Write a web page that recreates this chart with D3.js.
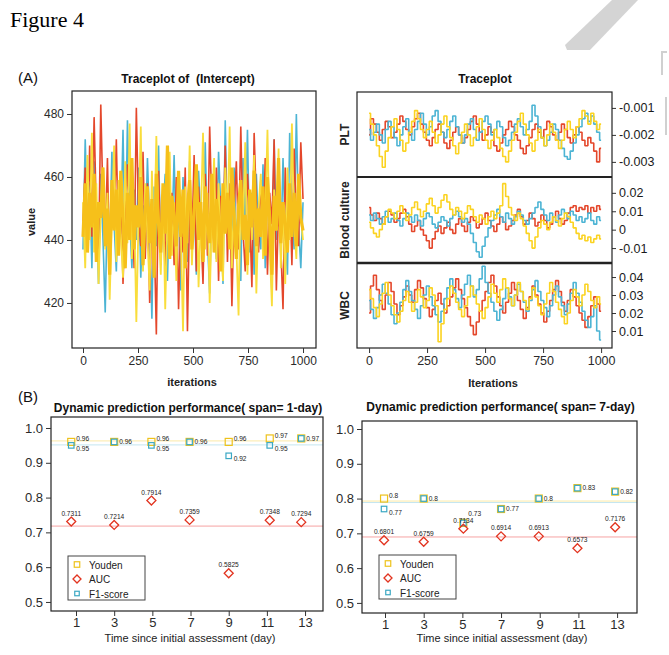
<!DOCTYPE html>
<html>
<head>
<meta charset="utf-8">
<script src="https://cdn.jsdelivr.net/npm/d3@7"></script>
<style>
body { margin: 0; background: #fff; }
svg text { font-family: "Liberation Sans", Arial, sans-serif; white-space: pre; }
</style>
</head>
<body>
<div id="fig"></div>
<script>
// ---- (A) traceplot of the intercept, 4 chains ----
var interceptCyan = [437,472,444,458,431,465,449,426,461,440,
	417,453,436,468,445,430,459,442,475,434,
	478,447,431,456,440,463,428,451,437,466,
	443,415,457,438,470,432,449,461,427,455,
	441,467,435,452,424,460,444,433,465,439,
	456,429,462,447,436,471,440,423,458,445,
	434,468,450,426,478,441,457,432,463,438,
	452,427,466,444,475,436,455,429,461,443,
	437,464,431,458,446,423,472,440,453,435,
	466,442,429,474,449,437,480,445,431,452];
var interceptRed = [446,463,437,470,441,479,448,433,483,452,
	438,466,429,457,445,472,436,460,426,449,
	464,440,455,431,482,447,438,468,434,458,
	420,451,443,410,462,437,454,428,466,441,
	455,432,460,418,447,436,463,411,452,439,
	467,430,457,444,426,461,435,476,449,438,
	463,427,454,441,470,433,458,419,450,465,
	437,476,443,430,461,448,425,474,452,436,
	459,440,466,429,455,445,472,424,451,438,
	418,463,441,457,432,469,446,438,471,453];
var interceptYellow = [452,431,467,440,474,436,458,426,449,463,
	437,455,421,446,470,433,459,442,428,465,
	439,477,434,451,414,447,476,430,458,441,
	424,462,438,473,445,429,456,418,448,468,
	435,452,427,461,443,411,457,439,470,432,
	450,463,425,446,474,437,455,420,449,466,
	433,458,441,427,463,445,476,431,452,438,
	416,459,444,471,429,455,440,467,423,450,
	461,434,447,475,438,419,456,443,469,431,
	452,426,463,440,477,445,434,459,448,440];
var interceptGold = [441,458,436,455,444,461,433,452,447,463,
	438,450,429,459,443,456,435,462,446,431,
	455,440,466,437,451,444,460,432,449,457,
	439,453,428,461,445,436,458,442,470,434,
	454,447,438,462,441,456,431,450,459,437,
	448,464,440,452,433,457,445,439,461,436,
	453,447,430,458,442,455,437,463,446,434,
	451,459,440,448,432,456,444,462,438,450,
	441,457,435,460,447,429,454,443,466,439,
	452,445,436,458,441,455,438,461,447,443];
var interceptTicks = [420, 440, 460, 480];
var iterTicks = [0, 250, 500, 750, 1000];

// ---- (A) right traceplots, values in thousandths ----
var pltRed = [-2.0,-1.4,-1.6,-1.9,-2.2,-1.8,-1.5,-1.7,-2.1,-1.9,
	-1.6,-1.3,-1.5,-1.8,-2.0,-1.7,-1.4,-1.2,-1.6,-1.9,
	-2.2,-2.4,-2.1,-1.8,-1.6,-1.9,-2.3,-2.5,-2.2,-1.9,
	-1.7,-2.0,-2.3,-2.1,-1.8,-1.5,-1.3,-1.6,-1.9,-2.2,
	-2.0,-1.7,-1.9,-2.4,-2.6,-2.3,-2.0,-1.8,-1.5,-1.7,
	-2.0,-2.2,-2.5,-2.7,-2.4,-2.1,-1.8,-1.6,-1.9,-2.1,
	-1.8,-1.5,-1.7,-2.0,-2.2,-1.9,-1.6,-1.8,-2.1,-2.3,
	-2.0,-1.7,-1.9,-2.2,-2.4,-2.1,-2.3,-2.6,-3.0,-2.5];
var pltCyan = [-1.8,-2.2,-1.9,-1.6,-2.0,-2.3,-1.8,-1.5,-1.7,-2.1,
	-2.4,-2.0,-1.7,-1.4,-1.9,-2.2,-1.8,-1.5,-1.2,-1.6,
	-2.0,-1.7,-1.3,-1.1,-1.5,-1.9,-2.1,-1.8,-1.5,-1.3,
	-1.7,-2.0,-2.3,-2.0,-1.6,-1.4,-1.8,-2.2,-1.9,-1.5,
	-1.3,-1.6,-2.0,-1.8,-1.5,-1.7,-2.1,-2.4,-2.2,-1.9,
	-1.6,-1.4,-1.7,-2.0,-1.8,-1.5,-0.9,-1.3,-1.7,-2.1,
	-2.4,-2.2,-1.9,-1.6,-1.8,-2.2,-2.5,-2.8,-2.9,-2.6,
	-2.3,-2.0,-1.7,-1.4,-1.2,-1.5,-1.3,-1.6,-1.9,-2.2];
var pltYellow = [-1.2,-1.6,-2.0,-2.4,-2.8,-3.2,-2.6,-2.1,-1.7,-1.4,
	-1.8,-2.2,-2.6,-2.3,-1.9,-1.5,-1.1,-1.4,-1.8,-2.1,
	-1.8,-1.5,-1.9,-2.3,-2.0,-1.6,-1.3,-1.7,-2.1,-2.4,
	-2.7,-2.3,-1.9,-1.6,-2.0,-2.4,-2.1,-1.7,-1.4,-1.8,
	-2.2,-2.5,-2.2,-1.8,-2.1,-2.5,-2.8,-3.0,-2.6,-2.2,
	-1.9,-1.5,-1.2,-1.6,-2.0,-2.3,-2.6,-2.2,-1.8,-2.1,
	-2.4,-2.0,-1.6,-1.9,-2.2,-2.5,-2.2,-1.8,-1.5,-1.8,
	-2.1,-1.7,-1.4,-1.1,-1.3,-1.6,-1.2,-1.5,-1.8,-1.6];
var bcRed = [12,8,5,9,6,3,7,10,8,4,
	6,9,11,7,3,-1,2,5,0,-3,
	-6,-10,-5,-1,2,-2,1,4,0,-2,
	3,6,2,-1,4,7,5,1,3,6,
	9,5,2,-1,3,7,4,0,2,5,
	8,11,7,3,5,9,6,2,4,8,
	5,1,3,7,10,6,3,5,9,12,
	13,10,12,11,13,9,12,10,13,11];
var bcCyan = [8,5,9,6,3,7,10,4,6,9,
	5,2,6,9,7,4,8,5,2,6,
	9,7,3,1,4,7,5,2,6,8,
	10,7,4,6,3,-2,-7,-12,-15,-9,
	-4,1,5,8,11,7,4,9,6,3,
	7,10,8,5,3,6,9,12,15,11,
	8,5,9,7,4,8,11,9,6,10,
	8,5,7,4,6,9,5,3,7,5];
var bcYellow = [4,1,-2,-4,0,3,7,11,9,6,
	10,13,9,5,8,12,15,11,7,10,
	14,17,13,9,12,16,19,15,11,8,
	12,10,6,9,13,11,7,4,8,6,
	3,7,10,6,9,13,25,18,12,8,
	5,9,6,2,-2,-6,-10,-4,1,5,
	3,0,4,7,5,2,6,9,7,4,
	1,-2,-5,-3,-6,-4,-7,-5,-3,-5];
var wbcRed = [20,35,41,33,27,22,30,37,32,25,
	19,24,29,35,30,26,33,38,34,28,
	23,18,22,27,31,25,20,24,29,34,
	39,33,28,23,18,13,8,15,21,27,
	32,37,41,35,29,24,20,26,31,37,
	33,27,22,17,23,29,35,30,25,20,
	15,21,27,33,38,32,26,21,27,33,
	29,24,20,16,12,18,24,29,25,21];
var wbcCyan = [27,22,17,23,30,36,31,25,19,14,
	20,26,33,38,32,27,22,17,24,30,
	35,29,24,19,15,21,28,34,39,33,
	28,23,30,36,41,35,29,33,39,46,
	37,31,26,21,16,22,28,34,29,24,
	30,36,32,26,21,27,33,38,32,27,
	23,18,24,30,35,29,24,19,25,31,
	37,31,26,21,16,12,18,24,10,5];
var wbcYellow = [33,28,23,18,25,31,37,30,24,19,
	15,21,27,32,26,21,26,33,29,23,
	27,34,30,24,4,14,22,28,35,31,
	26,22,18,24,29,35,30,25,21,17,
	23,29,36,31,26,33,39,34,28,24,
	30,37,32,27,22,28,34,29,24,19,
	25,31,37,32,26,22,18,14,20,27,
	33,29,24,30,36,32,27,23,29,25];
var pltTicks = [-1, -2, -3];
var pltTickLabels = ['-0.001', '-0.002', '-0.003'];
var bcTicks = [20, 10, 0, -10];
var bcTickLabels = ['0.02', '0.01', '0', '-0.01'];
var wbcTicks = [40, 30, 20, 10];
var wbcTickLabels = ['0.04', '0.03', '0.02', '0.01'];

// ---- (B) dynamic prediction performance ----
var days = [1, 3, 5, 7, 9, 11, 13];
var perfTicks = [0.5, 0.6, 0.7, 0.8, 0.9, 1.0];
var jitter1 = [0.75, 3.0, 4.95, 6.95, 9.0, 11.15, 12.8];
var youden1 = [0.96, 0.96, 0.96, 0.96, 0.96, 0.97, 0.97];
var auc1 = [0.7311, 0.7214, 0.7914, 0.7359, 0.5825, 0.7348, 0.7294];
var f1score1 = [0.95, 0.96, 0.95, 0.96, 0.92, 0.95, 0.97];
var jitter7 = [0.95, 3.0, 5.05, 7.0, 8.95, 10.95, 12.9];
var youden7 = [0.8, 0.8, 0.73, 0.77, 0.8, 0.83, 0.82];
var auc7 = [0.6801, 0.6759, 0.7134, 0.6914, 0.6913, 0.6573, 0.7176];
var f1score7 = [0.77, 0.8, 0.73, 0.77, 0.8, 0.83, 0.82];
var legendNames = ['Youden', 'AUC', 'F1-score'];

var colRed = '#e4472b', colCyan = '#4cb4d4', colYellow = '#fbd321', colGold = '#f6c01a';
var mkYellow = '#eec21a', mkRed = '#e2331f', mkCyan = '#3ba8c4';

var svg = d3.select('#fig').append('svg')
	.attr('width', 669)
	.attr('height', 655);

svg.append('text')
	.attr('x', 10).attr('y', 27)
	.style('font-family', '"Liberation Serif", "Times New Roman", serif')
	.style('font-size', '22px')
	.text('Figure 4');

// grey page mark, top right
svg.append('path')
	.attr('d', 'M565,45 L612,0 L638,0 L590,50 L567,50 Z')
	.attr('fill', '#d4d4d4');
svg.append('path').attr('d', 'M667,52 L662,52 L662,75').attr('fill', 'none').attr('stroke', '#d0d0d0').attr('stroke-width', 2);
svg.append('path').attr('d', 'M666,97 L666,135').attr('fill', 'none').attr('stroke', '#d0d0d0').attr('stroke-width', 2);

function label(x, y, txt, size, opts) {
	opts = opts || {};
	var t = svg.append('text')
		.attr('x', x).attr('y', y)
		.attr('text-anchor', opts.anchor || 'middle')
		.style('font-size', size + 'px')
		.style('font-weight', opts.bold ? 'bold' : 'normal')
		.attr('fill', opts.fill || '#111')
		.text(txt);
	if (opts.rotate) t.attr('transform', 'rotate(-90,' + x + ',' + y + ')');
	return t;
}

function styleAxis(g, size) {
	g.select('.domain').remove();
	g.selectAll('line').attr('stroke', '#333');
	g.selectAll('text').attr('fill', '#2a2a2a').style('font-size', size + 'px');
}

var clipId = 0;
function clipBox(x0, y0, x1, y1) {
	var id = 'clip' + (clipId++);
	svg.append('clipPath').attr('id', id)
		.append('rect').attr('x', x0).attr('y', y0).attr('width', x1 - x0).attr('height', y1 - y0);
	return 'url(#' + id + ')';
}

function drawChain(g, x, y, values, color, curve, width) {
	var n = values.length;
	var pts = values.map(function(v, i) { return [i * 1000 / (n - 1), v]; });
	var line = d3.line().curve(curve)
		.x(function(d) { return x(d[0]); })
		.y(function(d) { return y(d[1]); });
	g.append('path')
		.attr('d', line(pts))
		.attr('fill', 'none')
		.attr('stroke', color)
		.attr('stroke-width', width)
		.attr('stroke-linejoin', 'bevel');
}

// ================= (A) left =================
label(18, 83, '(A)', 15, { anchor: 'start' });
label(188, 83, 'Traceplot of  (Intercept)', 12, { bold: true });

var xI = d3.scaleLinear().domain([-50, 1059]).range([72, 316]);
var yI = d3.scaleLinear().domain([405.7, 487.3]).range([348, 91]);

var gI = svg.append('g').attr('clip-path', clipBox(72, 91, 316, 348));
drawChain(gI, xI, yI, interceptCyan, colCyan, d3.curveLinear, 1.6);
drawChain(gI, xI, yI, interceptRed, colRed, d3.curveLinear, 1.6);
drawChain(gI, xI, yI, interceptYellow, '#f9dd3c', d3.curveLinear, 1.8);
drawChain(gI, xI, yI, interceptGold, colGold, d3.curveLinear, 3.2);

svg.append('rect').attr('x', 72).attr('y', 91).attr('width', 244).attr('height', 257)
	.attr('fill', 'none').attr('stroke', '#222').attr('stroke-width', 1.2);

styleAxis(svg.append('g').attr('transform', 'translate(72,0)')
	.call(d3.axisLeft(yI).tickValues(interceptTicks).tickSize(5).tickPadding(3)), 12);
styleAxis(svg.append('g').attr('transform', 'translate(0,348)')
	.call(d3.axisBottom(xI).tickValues(iterTicks).tickSize(5).tickPadding(3).tickFormat(d3.format('d'))), 12);
label(192, 386, 'iterations', 11, { fill: '#222', bold: true });
label(35, 222, 'value', 11, { rotate: true, fill: '#222', bold: true });

// ================= (A) right =================
label(485, 83, 'Traceplot', 12, { bold: true });
var xR = d3.scaleLinear().domain([-52, 1047]).range([357, 612]);

var rightPanels = [
	{ name: 'PLT', y0: 92, y1: 177, domain: [-3.56, -0.41], chains: [pltRed, pltCyan, pltYellow], ticks: pltTicks, tickLabels: pltTickLabels },
	{ name: 'Blood culture', y0: 177, y1: 263, domain: [-18.1, 28.6], chains: [bcRed, bcCyan, bcYellow], ticks: bcTicks, tickLabels: bcTickLabels },
	{ name: 'WBC', y0: 263, y1: 348, domain: [0.56, 47.8], chains: [wbcRed, wbcCyan, wbcYellow], ticks: wbcTicks, tickLabels: wbcTickLabels }
];
var rightColors = [colRed, colCyan, colYellow];

rightPanels.forEach(function(p) {
	var y = d3.scaleLinear().domain(p.domain).range([p.y1, p.y0]);
	var g = svg.append('g').attr('clip-path', clipBox(357, p.y0, 612, p.y1));
	p.chains.forEach(function(c, i) {
		drawChain(g, xR, y, c, rightColors[i], d3.curveStep, 1.6);
	});
	var ax = svg.append('g').attr('transform', 'translate(612,0)')
		.call(d3.axisRight(y).tickValues(p.ticks).tickSize(4).tickPadding(3)
			.tickFormat(function(d, i) { return p.tickLabels[i]; }));
	styleAxis(ax, 12.5);
	ax.selectAll('text').attr('fill', '#1a1a1a');
	label(349, (p.y0 + p.y1) / 2, p.name, 12, { rotate: true, bold: true, fill: '#222' });
});
svg.append('rect').attr('x', 357).attr('y', 92).attr('width', 255).attr('height', 256)
	.attr('fill', 'none').attr('stroke', '#222').attr('stroke-width', 1.2);
svg.append('line').attr('x1', 357).attr('x2', 612).attr('y1', 177).attr('y2', 177).attr('stroke', '#222').attr('stroke-width', 2);
svg.append('line').attr('x1', 357).attr('x2', 612).attr('y1', 263).attr('y2', 263).attr('stroke', '#222').attr('stroke-width', 2.4);
styleAxis(svg.append('g').attr('transform', 'translate(0,348)')
	.call(d3.axisBottom(xR).tickValues(iterTicks).tickSize(5).tickPadding(3).tickFormat(d3.format('d'))), 12.5);
label(493, 387, 'Iterations', 11, { fill: '#222', bold: true });

// ================= (B) =================
label(18, 402, '(B)', 15, { anchor: 'start' });

function fmtShort(v) { return String(+v.toFixed(2)); }

function squareMark(g, cx, cy, s, color) {
	g.append('rect').attr('x', cx - s / 2).attr('y', cy - s / 2).attr('width', s).attr('height', s)
		.attr('fill', 'none').attr('stroke', color).attr('stroke-width', 1.2);
}
function diamondMark(g, cx, cy, s, color) {
	g.append('path')
		.attr('d', 'M' + cx + ',' + (cy - s) + 'L' + (cx + s) + ',' + cy + 'L' + cx + ',' + (cy + s) + 'L' + (cx - s) + ',' + cy + 'Z')
		.attr('fill', 'none').attr('stroke', color).attr('stroke-width', 1.3);
}

function smallText(g, x, y, txt, anchor) {
	g.append('text').attr('x', x).attr('y', y)
		.attr('text-anchor', anchor || 'start')
		.style('font-size', '6.6px').attr('fill', '#222').text(txt);
}

function perfPanel(p) {
	var x = d3.scaleLinear().domain(p.xDomain).range([p.x0, p.x1]);
	var y = d3.scaleLinear().domain(p.yDomain).range([p.y1, p.y0]);
	label((p.x0 + p.x1) / 2 + 1, p.titleY, p.title, 12, { bold: true });

	var g = svg.append('g');
	[[p.youden, '#fbeaa6'], [p.f1, '#c4e6f0'], [p.auc, '#f6a3a3']].forEach(function(r) {
		var m = d3.mean(r[0]);
		g.append('line').attr('x1', p.x0).attr('x2', p.x1).attr('y1', y(m)).attr('y2', y(m))
			.attr('stroke', r[1]).attr('stroke-width', 1);
	});

	days.forEach(function(d, i) {
		var cx = x(p.jitter[i]);
		var yv = p.youden[i], fv = p.f1[i], av = p.auc[i];
		squareMark(g, cx, y(yv), 7, mkYellow);
		squareMark(g, cx, y(fv), 5.5, mkCyan);
		diamondMark(g, cx, y(av), 4.5, mkRed);
		var aucBase = y(av) - 6;
		smallText(g, cx, aucBase, String(av), 'middle');
		if (yv === fv) {
			var b = y(yv) + 2.3;
			// lift the label clear of the AUC value when they collide
			if (Math.abs(b - aucBase) < 7) b = aucBase - 6.5;
			smallText(g, cx + 5, b, fmtShort(yv));
		} else {
			var hi = Math.max(yv, fv), lo = Math.min(yv, fv);
			smallText(g, cx + 5, y(hi) - 0.5, fmtShort(hi));
			smallText(g, cx + 5, y(lo) + 5.5, fmtShort(lo));
		}
	});

	svg.append('rect').attr('x', p.x0).attr('y', p.y0).attr('width', p.x1 - p.x0).attr('height', p.y1 - p.y0)
		.attr('fill', 'none').attr('stroke', '#222').attr('stroke-width', 1.2);
	styleAxis(svg.append('g').attr('transform', 'translate(' + p.x0 + ',0)')
		.call(d3.axisLeft(y).tickValues(perfTicks).tickSize(5).tickPadding(3).tickFormat(d3.format('.1f'))), 13);
	styleAxis(svg.append('g').attr('transform', 'translate(0,' + p.y1 + ')')
		.call(d3.axisBottom(x).tickValues(days).tickSize(5).tickPadding(2)), 13);
	label(p.xTitleX, 642, 'Time since initial assessment (day)', 11, { fill: '#222' });

	// legend
	var lg = svg.append('g');
	lg.append('rect').attr('x', p.lx).attr('y', p.ly).attr('width', 77).attr('height', 44)
		.attr('fill', '#fff').attr('stroke', '#444').attr('stroke-width', 1);
	legendNames.forEach(function(n, i) {
		var ly = p.ly + 9 + i * 14.5;
		if (i === 0) squareMark(lg, p.lx + 9, ly - 0.5, 5.5, mkYellow);
		if (i === 1) diamondMark(lg, p.lx + 9, ly - 0.5, 4, mkRed);
		if (i === 2) squareMark(lg, p.lx + 9, ly - 0.5, 4.5, mkCyan);
		lg.append('text').attr('x', p.lx + 21).attr('y', ly + 3.5)
			.style('font-size', '10px').attr('fill', '#222').text(n);
	});
}

perfPanel({
	title: 'Dynamic prediction performance( span= 1-day)', titleY: 412,
	x0: 51, x1: 323, y0: 417, y1: 611,
	xDomain: [-0.31, 13.94], yDomain: [0.474, 1.0316],
	jitter: jitter1, youden: youden1, auc: auc1, f1: f1score1,
	lx: 68, ly: 556, xTitleX: 190
});
perfPanel({
	title: 'Dynamic prediction performance( span= 7-day)', titleY: 411,
	x0: 362, x1: 637, y0: 421, y1: 613,
	xDomain: [-0.19, 14.03], yDomain: [0.471, 1.023],
	jitter: jitter7, youden: youden7, auc: auc7, f1: f1score7,
	lx: 379, ly: 555, xTitleX: 502
});
</script>
</body>
</html>
